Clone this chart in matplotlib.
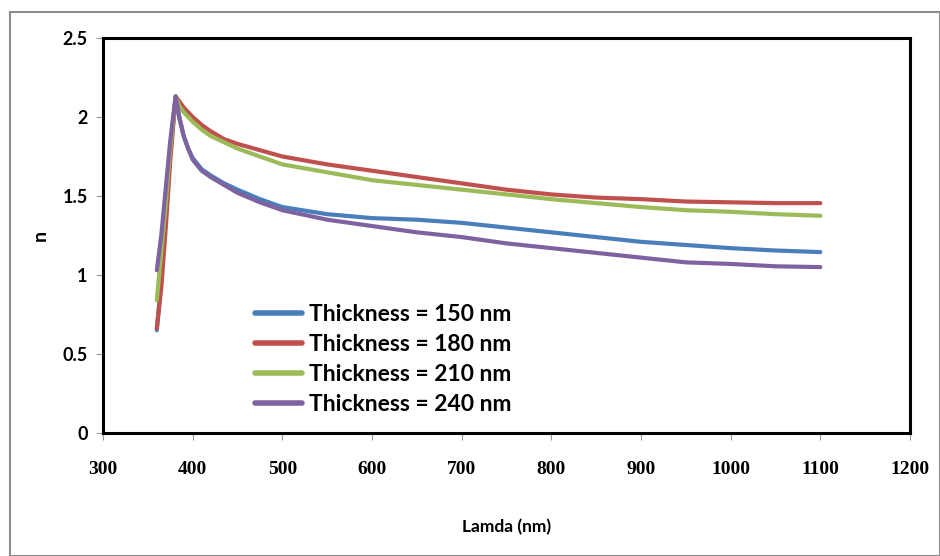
import matplotlib.pyplot as plt
from matplotlib.patches import Rectangle

# wavelength (nm) and refractive index n for each film thickness
lamda = [360, 365, 370, 375, 381, 385, 390, 395, 400, 410, 420, 435, 450, 475,
         500, 550, 600, 650, 700, 750, 800, 850, 900, 950, 1000, 1050, 1100]
n_150 = [0.65, 0.97, 1.37, 1.77, 2.13, 2.00, 1.88, 1.80, 1.74, 1.67, 1.63, 1.58,
         1.54, 1.48, 1.43, 1.385, 1.36, 1.35, 1.33, 1.30, 1.27, 1.24, 1.21, 1.19,
         1.17, 1.155, 1.145]
n_180 = [0.66, 0.92, 1.30, 1.72, 2.13, 2.10, 2.06, 2.03, 2.00, 1.95, 1.91, 1.86,
         1.83, 1.79, 1.75, 1.70, 1.66, 1.62, 1.58, 1.54, 1.51, 1.49, 1.48, 1.465,
         1.46, 1.455, 1.455]
n_210 = [0.84, 1.15, 1.45, 1.80, 2.13, 2.07, 2.03, 2.00, 1.97, 1.92, 1.88, 1.84,
         1.80, 1.75, 1.70, 1.65, 1.60, 1.57, 1.54, 1.51, 1.48, 1.455, 1.43, 1.41,
         1.40, 1.385, 1.375]
n_240 = [1.03, 1.25, 1.55, 1.85, 2.13, 2.00, 1.88, 1.80, 1.73, 1.66, 1.62, 1.57,
         1.52, 1.46, 1.41, 1.35, 1.31, 1.27, 1.24, 1.20, 1.17, 1.14, 1.11, 1.08,
         1.07, 1.055, 1.05]

labels = ['Thickness = 150 nm', 'Thickness = 180 nm',
          'Thickness = 210 nm', 'Thickness = 240 nm']
colors = ['#4A7EBB', '#C0504D', '#9BBB59', '#7F63A1']
xticks = [300, 400, 500, 600, 700, 800, 900, 1000, 1100, 1200]
yticks = [0, 0.5, 1, 1.5, 2, 2.5]

W, H = 940, 556
fig = plt.figure(figsize=(9.4, 5.56), dpi=100)

# outer chart frame
fig.patches.append(Rectangle((10 / W, 0), 1 - 10 / W, 1 - 12 / H,
                             transform=fig.transFigure, fill=False,
                             edgecolor='#8c8c8c', lw=1.5))

ax = fig.add_axes([103 / W, (H - 433) / H, (910 - 103) / W, (433 - 38) / H])

for y, c, lab in zip([n_150, n_180, n_210, n_240], colors, labels):
    ax.plot(lamda, y, color=c, lw=3, label=lab, solid_capstyle='round')

ax.set_xlim(300, 1200)
ax.set_ylim(0, 2.5)
ax.set_xticks(xticks)
ax.set_yticks(yticks)
ax.set_xticklabels([str(t) for t in xticks], family='Liberation Serif',
                   fontweight='bold', fontsize=14)
ax.set_yticklabels(['0', '0.5', '1', '1.5', '2', '2.5'], family='Lato',
                   fontweight='bold', fontsize=13)
ax.tick_params(axis='x', length=5, color='#9a9a9a', pad=15)
ax.tick_params(axis='y', length=5, color='#9a9a9a', pad=6)
for s in ax.spines.values():
    s.set_linewidth(2.2)
    s.set_color('black')

ax.set_xlabel('Lamda (nm)', family='Lato', fontweight='bold', fontsize=12.5,
              labelpad=30)
ax.set_ylabel('n', family='Lato', fontweight='bold', fontsize=14, labelpad=10)

leg = ax.legend(loc='upper left', bbox_to_anchor=(0.177, 0.35), frameon=False,
                prop={'family': 'Lato', 'weight': 'bold', 'size': 16.5},
                handlelength=2.05, handletextpad=0.3, labelspacing=0.4,
                borderaxespad=0)
for h in leg.get_lines():
    h.set_linewidth(4)

fig.savefig('out.png', dpi=100)
